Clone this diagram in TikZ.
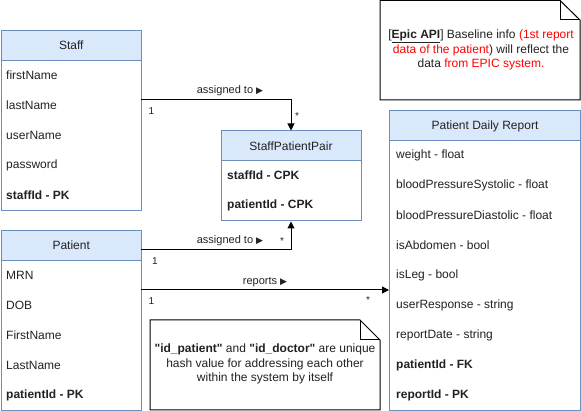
\documentclass[tikz,border=0pt]{standalone}
\usepackage{fontspec}
\setmainfont[Ligatures=TeXOff]{Liberation Sans}
\newfontfamily\dejavu{DejaVu Sans}
\usetikzlibrary{arrows.meta}
\definecolor{hdrfill}{HTML}{DAE8FC}
\definecolor{hdrline}{HTML}{6C8EBF}
\definecolor{notered}{HTML}{FF0000}
\definecolor{txt}{HTML}{222222}
\newcommand{\tri}{{\dejavu\fontsize{9}{11}\selectfont ▶}}
\begin{document}
\begin{tikzpicture}[x=1pt,y=-1pt,
  hdr/.style={draw=hdrline, fill=hdrfill, line width=1pt, anchor=north west, inner sep=0pt, text=txt, font=\fontsize{12}{14}\selectfont},
  cbody/.style={draw=hdrline, fill=white, line width=1pt, anchor=north west, inner sep=0pt},
  attr/.style={anchor=west, inner sep=0pt, text=txt, font=\fontsize{12}{14}\selectfont},
  battr/.style={anchor=west, inner sep=0pt, text=txt, font=\fontsize{12}{14}\selectfont\bfseries},
  conn/.style={draw, line width=1pt, -{Triangle[length=7pt,width=7pt]}},
  elabel/.style={inner sep=0pt, text=txt, font=\fontsize{11}{13}\selectfont},
  mult/.style={inner sep=0pt, text=txt, font=\fontsize{10}{12}\selectfont},
  notebox/.style={draw, line width=1pt, fill=white},
  notetext/.style={inner sep=0pt, align=center, text=txt, font=\fontsize{12}{14.5}\selectfont},
]
\useasboundingbox (0,0) rectangle (581,411);

% ---------- Staff ----------
\node[hdr, minimum width=140.5pt, minimum height=30pt] (staffH) at (0.5,30) {Staff};
\node[cbody, minimum width=140.5pt, minimum height=150pt] (staffB) at (0.5,60) {};
\node[attr] (s1) at (6,75) {firstName};
\node[attr] (s2) at (6,105) {lastName};
\node[attr] (s3) at (6,135) {userName};
\node[attr] (s4) at (6,165) {password};
\node[battr] (s5) at (6,195) {staffId - PK};

% ---------- Patient ----------
\node[hdr, minimum width=140.5pt, minimum height=30pt] (patH) at (0.5,230) {Patient};
\node[cbody, minimum width=140.5pt, minimum height=150pt] (patB) at (0.5,260) {};
\node[attr] (p1) at (6,275) {MRN};
\node[attr] (p2) at (6,305) {DOB};
\node[attr] (p3) at (6,335) {FirstName};
\node[attr] (p4) at (6,365) {LastName};
\node[battr] (p5) at (6,395) {patientId - PK};

% ---------- StaffPatientPair ----------
\node[hdr, minimum width=140pt, minimum height=30pt] (sppH) at (220.5,130.5) {StaffPatientPair};
\node[cbody, minimum width=140pt, minimum height=60pt] (sppB) at (220.5,160.5) {};
\node[battr] (sp1) at (227,175) {staffId - CPK};
\node[battr] (sp2) at (227,205) {patientId - CPK};

% ---------- Patient Daily Report ----------
\node[hdr, minimum width=191pt, minimum height=30pt] (pdrH) at (389,110.5) {Patient Daily Report};
\node[cbody, minimum width=191pt, minimum height=269.5pt] (pdrB) at (389,140.5) {};
\node[attr] (r1) at (396,155) {weight - float};
\node[attr] (r2) at (396,185) {bloodPressureSystolic - float};
\node[attr] (r3) at (396,215) {bloodPressureDiastolic - float};
\node[attr] (r4) at (396,245) {isAbdomen - bool};
\node[attr] (r5) at (396,275) {isLeg - bool};
\node[attr] (r6) at (396,305) {userResponse - string};
\node[attr] (r7) at (396,335) {reportDate - string};
\node[battr] (r8) at (396,365) {patientId - FK};
\node[battr] (r9) at (396,395) {reportId - PK};

% ---------- connectors ----------
\coordinate (c1) at (141,100);
\coordinate (c2) at (141,250);
\coordinate (c3) at (141,290);
\draw[conn] (c1) -| (sppH.north);
\draw[conn] (c2) -| (sppB.south);
\draw[conn] (c3) -- (c3 -| pdrB.west);

\node[elabel] (l1) at (230,91) {assigned to \tri};
\node[mult] (m1a) at (151.5,111.5) {1};
\node[mult] (m1b) at (297,116) {*};
\node[elabel] (l2) at (230,241) {assigned to \tri};
\node[mult] (m2a) at (155,261) {1};
\node[mult] (m2b) at (282,241) {*};
\node[elabel] (l3) at (265,282) {reports \tri};
\node[mult] (m3a) at (151.5,301) {1};
\node[mult] (m3b) at (368,300) {*};

% ---------- notes ----------
\draw[notebox] (380,0.5) -- (560,0.5) -- (580,20) -- (580,100) -- (380,100) -- cycle;
\draw[line width=1pt] (560,0.5) -- (560,20) -- (580,20);
\node[notetext] (n1) at (481,50) {[\underline{\textbf{Epic API}}] Baseline info \textcolor{notered}{(1st report}\\\textcolor{notered}{data of the patient}) will reflect the\\data \textcolor{notered}{from EPIC system.}};

\draw[notebox] (150,320) -- (360,320) -- (380,340) -- (380,410) -- (150,410) -- cycle;
\draw[line width=1pt] (360,320) -- (360,340) -- (380,340);
\node[notetext] (n2) at (265,364) {\textbf{"id\_patient"} and \textbf{"id\_doctor"} are unique\\hash value for addressing each other\\within the system by itself};
\end{tikzpicture}
\end{document}
